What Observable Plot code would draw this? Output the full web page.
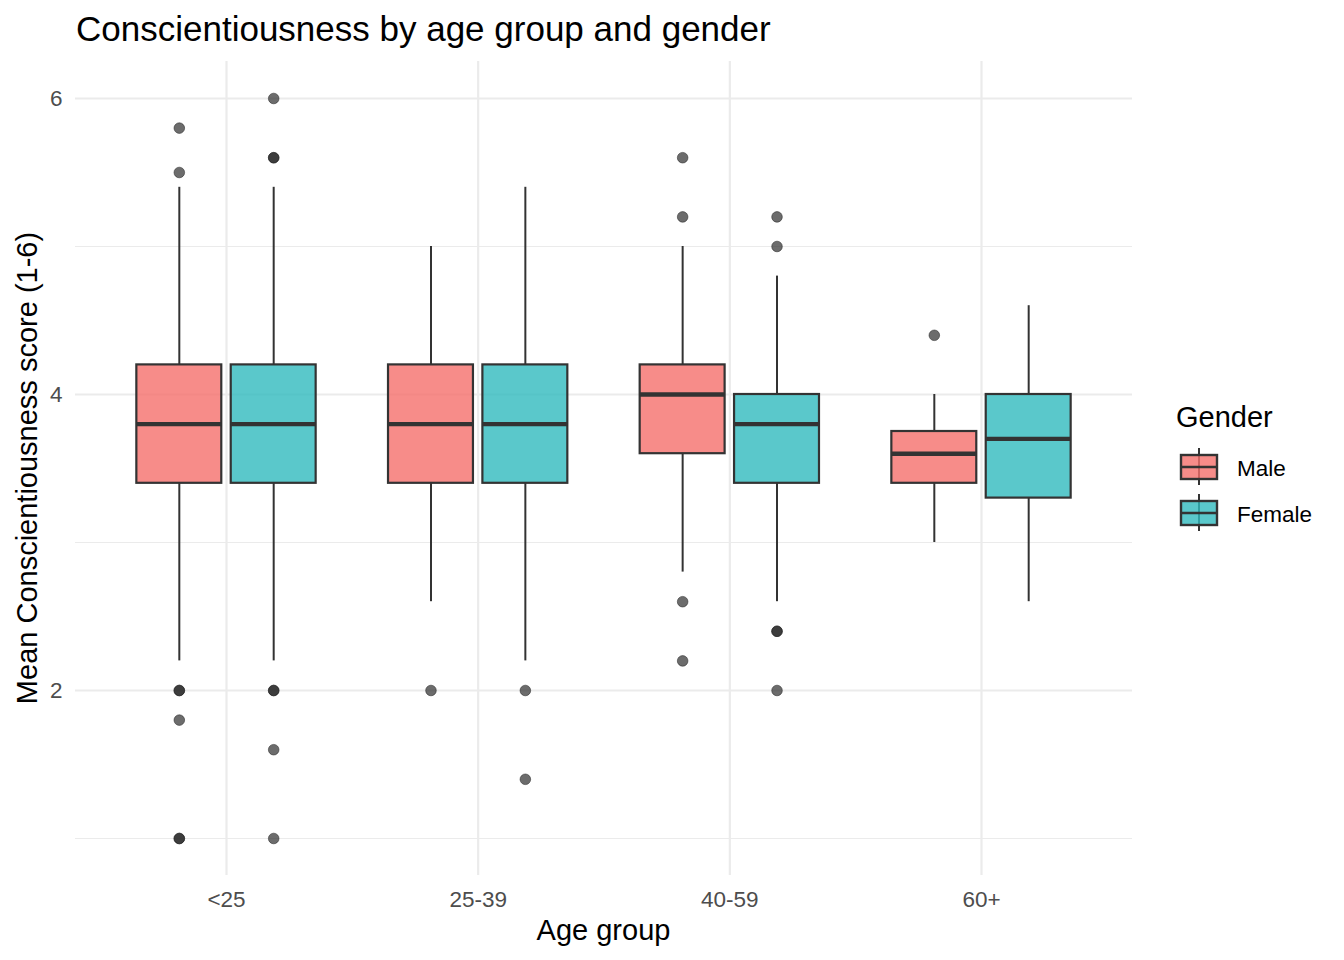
<!DOCTYPE html>
<html>
<head>
<meta charset="utf-8">
<script src="https://cdn.jsdelivr.net/npm/d3@7"></script>
<script src="https://cdn.jsdelivr.net/npm/@observablehq/plot@0.6"></script>
<style>
  body { margin: 0; background: #fff; }
  #chart { width: 1344px; height: 960px; }
</style>
</head>
<body>
<div id="chart"></div>
<script>
// ---- Data ----
const groups = ["<25", "25-39", "40-59", "60+"];
const genders = ["Male", "Female"];
const genderColors = ["#F56F6B", "#31BABE"];
const yTicksMajor = [2, 4, 6];
const yTicksMinor = [1, 3, 5];

const boxGroup    = ["<25", "<25", "25-39", "25-39", "40-59", "40-59", "60+", "60+"];
const boxGender   = ["Male", "Female", "Male", "Female", "Male", "Female", "Male", "Female"];
const whiskerLow  = [2.2, 2.2, 2.6, 2.2, 2.8, 2.6, 3.0, 2.6];
const quart1      = [3.4, 3.4, 3.4, 3.4, 3.6, 3.4, 3.4, 3.3];
const medians     = [3.8, 3.8, 3.8, 3.8, 4.0, 3.8, 3.6, 3.7];
const quart3      = [4.2, 4.2, 4.2, 4.2, 4.2, 4.0, 3.75, 4.0];
const whiskerHigh = [5.4, 5.4, 5.0, 5.4, 5.0, 4.8, 4.0, 4.6];

const outlierGroup  = ["<25","<25","<25","<25","<25",
                       "<25","<25","<25","<25","<25",
                       "25-39","25-39","25-39",
                       "40-59","40-59","40-59","40-59",
                       "40-59","40-59","40-59","40-59",
                       "60+"];
const outlierGender = ["Male","Male","Male","Male","Male",
                       "Female","Female","Female","Female","Female",
                       "Male","Female","Female",
                       "Male","Male","Male","Male",
                       "Female","Female","Female","Female",
                       "Male"];
const outlierValue  = [5.8, 5.5, 2.0, 1.8, 1.0,
                       6.0, 5.6, 2.0, 1.6, 1.0,
                       2.0, 2.0, 1.4,
                       5.6, 5.2, 2.6, 2.2,
                       5.2, 5.0, 2.4, 2.0,
                       4.4];
const outlierCount  = [1, 1, 2, 1, 2,
                       1, 2, 2, 1, 1,
                       1, 1, 1,
                       1, 1, 1, 1,
                       1, 1, 2, 1,
                       1];

// ---- Dodge layout (like ggplot position_dodge2) ----
const dodgeWidth = 0.75;
const boxPadding = 0.1;
const slot = dodgeWidth / genders.length;
const half = slot * (1 - boxPadding) / 2;
const pos = (g, s) => groups.indexOf(g) + (genders.indexOf(s) - (genders.length - 1) / 2) * slot;

const boxes = boxGroup.map((g, i) => ({
  group: g, gender: boxGender[i], x: pos(g, boxGender[i]),
  low: whiskerLow[i], q1: quart1[i], med: medians[i], q3: quart3[i], high: whiskerHigh[i]
}));
const outliers = [];
outlierValue.forEach((v, i) => {
  for (let k = 0; k < outlierCount[i]; k++) {
    outliers.push({x: pos(outlierGroup[i], outlierGender[i]), value: v, gender: outlierGender[i]});
  }
});

const font = "'Liberation Sans', Arial, Helvetica, sans-serif";
const boxStroke = "#333333";

const plot = Plot.plot({
  width: 1344,
  height: 960,
  marginLeft: 75,
  marginRight: 212,
  marginTop: 61,
  marginBottom: 85,
  style: {fontFamily: font, fontSize: "22.5px", background: "white", overflow: "visible"},
  x: {type: "linear", domain: [-0.6, groups.length - 1 + 0.6]},
  y: {domain: [0.75, 6.25]},
  color: {domain: genders, range: genderColors},
  marks: [
    Plot.gridY(yTicksMinor, {stroke: "#EBEBEB", strokeOpacity: 1, strokeWidth: 1.1}),
    Plot.gridY(yTicksMajor, {stroke: "#EBEBEB", strokeOpacity: 1, strokeWidth: 2.2}),
    Plot.gridX(d3.range(groups.length), {stroke: "#EBEBEB", strokeOpacity: 1, strokeWidth: 2.2}),
    Plot.axisY(yTicksMajor, {tickSize: 0, tickPadding: 13, tickFormat: (d) => String(d), fontSize: 22.5, fill: "#4D4D4D", label: null}),
    Plot.axisX(d3.range(groups.length), {tickSize: 0, tickPadding: 16, tickFormat: (i) => groups[i], fontSize: 22.5, fill: "#4D4D4D", label: null}),
    Plot.dot(outliers, {x: "x", y: "value", r: 5.3, fill: "#262626", fillOpacity: 0.68, stroke: "#262626", strokeOpacity: 0.68, strokeWidth: 0.8}),
    Plot.ruleX(boxes, {x: "x", y1: "low", y2: "q1", stroke: boxStroke, strokeWidth: 2}),
    Plot.ruleX(boxes, {x: "x", y1: "q3", y2: "high", stroke: boxStroke, strokeWidth: 2}),
    Plot.rect(boxes, {x1: (d) => d.x - half, x2: (d) => d.x + half, y1: "q1", y2: "q3", fill: "gender", fillOpacity: 0.8, stroke: boxStroke, strokeWidth: 2.2}),
    Plot.ruleY(boxes, {y: "med", x1: (d) => d.x - half, x2: (d) => d.x + half, stroke: boxStroke, strokeWidth: 4.4})
  ]
});

const svg = d3.select(plot);

// Title
svg.append("text").attr("x", 76).attr("y", 41)
  .attr("text-anchor", "start")
  .attr("font-family", font).attr("font-size", 35).attr("fill", "#000")
  .text("Conscientiousness by age group and gender");

// X axis title
svg.append("text").attr("x", (75 + 1132) / 2).attr("y", 940)
  .attr("text-anchor", "middle")
  .attr("font-family", font).attr("font-size", 29).attr("fill", "#000")
  .text("Age group");

// Y axis title
svg.append("text")
  .attr("transform", `translate(37,${(61 + 875) / 2}) rotate(-90)`)
  .attr("text-anchor", "middle")
  .attr("font-family", font).attr("font-size", 29).attr("fill", "#000")
  .text("Mean Conscientiousness score (1-6)");

// Legend
const leg = svg.append("g").attr("text-anchor", "start");
leg.append("text").attr("x", 1176).attr("y", 427)
  .attr("text-anchor", "start")
  .attr("font-family", font).attr("font-size", 29).attr("fill", "#000")
  .text("Gender");
genders.forEach((g, i) => {
  const cy = 467 + 46 * i;
  leg.append("line").attr("x1", 1199).attr("x2", 1199).attr("y1", cy - 19).attr("y2", cy + 18)
    .attr("stroke", boxStroke).attr("stroke-width", 2);
  leg.append("rect").attr("x", 1181).attr("y", cy - 12).attr("width", 36).attr("height", 24)
    .attr("fill", genderColors[i]).attr("fill-opacity", 0.8)
    .attr("stroke", boxStroke).attr("stroke-width", 2.4);
  leg.append("line").attr("x1", 1181).attr("x2", 1217).attr("y1", cy).attr("y2", cy)
    .attr("stroke", boxStroke).attr("stroke-width", 2.6);
  leg.append("text").attr("x", 1237).attr("y", cy + 8.5)
    .attr("text-anchor", "start")
    .attr("font-family", font).attr("font-size", 22.5).attr("fill", "#000")
    .text(g);
});

document.getElementById("chart").appendChild(plot);
</script>
</body>
</html>
